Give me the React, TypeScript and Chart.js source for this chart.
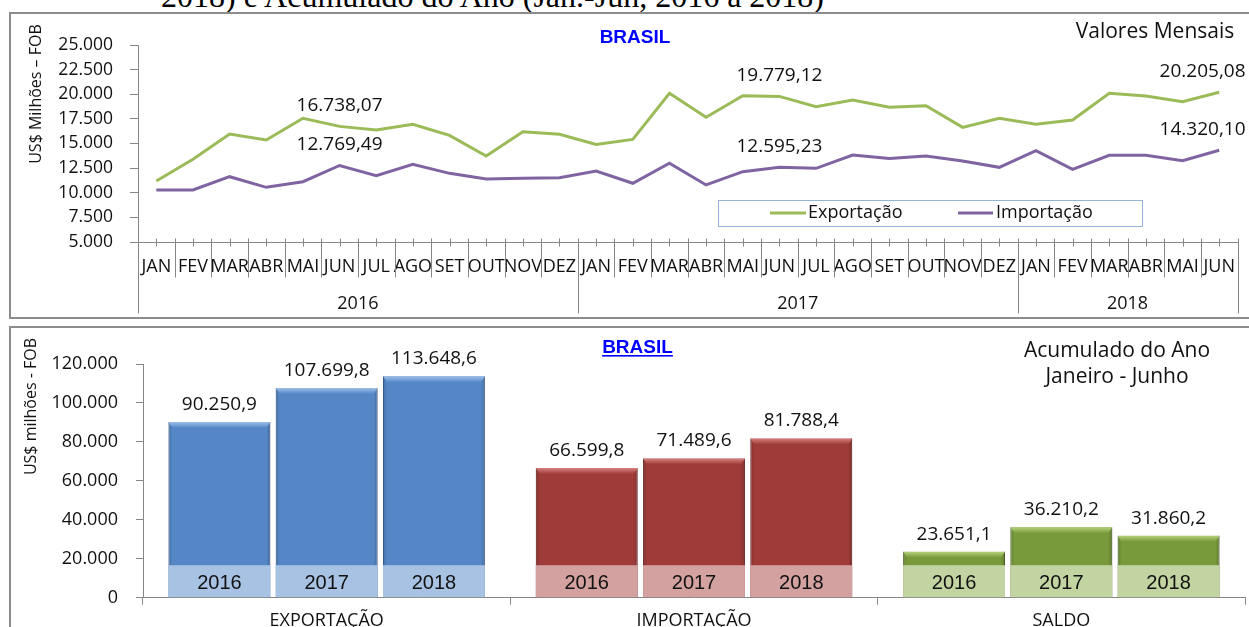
import React, { useEffect, useRef } from 'react';
import { Chart, registerables } from 'chart.js';

Chart.register(...registerables);

// ---------------- DATA ----------------
const MONTH_LABELS = [
  'JAN', 'FEV', 'MAR', 'ABR', 'MAI', 'JUN', 'JUL', 'AGO', 'SET', 'OUT', 'NOV', 'DEZ',
  'JAN', 'FEV', 'MAR', 'ABR', 'MAI', 'JUN', 'JUL', 'AGO', 'SET', 'OUT', 'NOV', 'DEZ',
  'JAN', 'FEV', 'MAR', 'ABR', 'MAI', 'JUN',
];
const YEAR_LABELS = ['2016', '2017', '2018'];
const MONTHS_IN_YEAR = [12, 12, 6];

const EXPORT_MONTHLY = [
  11190, 13400, 15960, 15350, 17560, 16738.07, 16370, 16950, 15830, 13730, 16200, 15930,
  14910, 15420, 20090, 17660, 19850, 19779.12, 18740, 19420, 18680, 18840, 16640, 17560,
  16950, 17390, 20090, 19820, 19240, 20205.08,
];
const IMPORT_MONTHLY = [
  10280, 10280, 11630, 10550, 11120, 12769.49, 11730, 12890, 11970, 11400, 11470, 11530,
  12210, 10960, 12990, 10790, 12140, 12595.23, 12480, 13830, 13490, 13730, 13220, 12580,
  14270, 12380, 13800, 13800, 13260, 14320.1,
];
const LABELED_MONTHS = [5, 17, 29];

const ACC_GROUPS = ['EXPORTAÇÃO', 'IMPORTAÇÃO', 'SALDO'];
const ACC_YEARS = ['2016', '2017', '2018'];
const EXPORT_ACC = [90250.9, 107699.8, 113648.6];
const IMPORT_ACC = [66599.8, 71489.6, 81788.4];
const SALDO_ACC = [23651.1, 36210.2, 31860.2];

// ---------------- STYLE ----------------
const FONT = '"Open Sans", "Noto Sans", sans-serif';
const ARIAL = '"Liberation Sans", Arial, sans-serif';
const AXIS = '#868686';
const GREEN = '#9BBB59';
const PURPLE = '#8064A2';
const TEXT = '#111111';
const BAND_H = 32;

const PALETTE = [
  { fill: '#5587C7', light: '#9DBFEA', border: '#3F6AA0', band: '#A8C2E3' },
  { fill: '#9F3B39', light: '#D9817F', border: '#7A2A28', band: '#D3A1A0' },
  { fill: '#799A3B', light: '#B7D27E', border: '#5B7429', band: '#C3D4A3' },
];

function fmt(v: number, dec: number): string {
  const fixed = v.toFixed(dec);
  const [intPart, frac] = fixed.split('.');
  const withSep = intPart.replace(/\B(?=(\d{3})+(?!\d))/g, '.');
  return frac ? withSep + ',' + frac : withSep;
}

const topDecor = {
  id: 'topDecor',
  afterDraw(chart: any) {
    const { ctx, chartArea } = chart;
    const x = chart.scales.x;
    const n = chart.data.labels.length;
    const step = x.getPixelForValue(1) - x.getPixelForValue(0);
    const axisY = Math.round(chartArea.bottom) + 0.5;
    ctx.save();
    ctx.strokeStyle = AXIS;
    ctx.lineWidth = 1;
    for (let i = 0; i < n; i++) {
      const px = Math.round(x.getPixelForValue(i)) + 0.5;
      ctx.beginPath();
      ctx.moveTo(px, axisY - 4);
      ctx.lineTo(px, axisY + 4);
      ctx.stroke();
    }
    const yearStarts = [0];
    MONTHS_IN_YEAR.forEach((m, k) => yearStarts.push(yearStarts[k] + m));
    const first = x.getPixelForValue(0) - step / 2;
    for (let b = 0; b <= n; b++) {
      const bx = Math.round(first + b * step) + 0.5;
      const isYear = yearStarts.includes(b);
      ctx.beginPath();
      ctx.moveTo(bx, axisY - 4);
      ctx.lineTo(bx, axisY + (isYear ? 71 : 35));
      ctx.stroke();
    }
    ctx.fillStyle = TEXT;
    ctx.font = `18px ${FONT}`;
    ctx.textAlign = 'center';
    ctx.textBaseline = 'alphabetic';
    YEAR_LABELS.forEach((yl, k) => {
      const a = first + yearStarts[k] * step;
      const bb = first + yearStarts[k + 1] * step;
      ctx.fillText(yl, (a + bb) / 2, axisY + 66);
    });
    ctx.font = `19px ${FONT}`;
    chart.data.datasets.forEach((ds: any, di: number) => {
      const meta = chart.getDatasetMeta(di);
      LABELED_MONTHS.forEach((idx) => {
        const el = meta.data[idx];
        const txt = fmt(ds.data[idx], 2);
        const w = ctx.measureText(txt).width;
        const cx = Math.min(el.x, chartArea.right + 8 - w / 2);
        ctx.fillText(txt, cx, el.y - 15);
      });
    });
    ctx.save();
    ctx.translate(36, 94);
    ctx.rotate(-Math.PI / 2);
    ctx.font = `16px ${FONT}`;
    ctx.textBaseline = 'middle';
    ctx.fillText('US$ Milhões – FOB', 0, 0);
    ctx.restore();
    ctx.font = `bold 19px ${ARIAL}`;
    ctx.fillStyle = '#0000FF';
    ctx.fillText('BRASIL', 635, 43);
    ctx.font = `21px ${FONT}`;
    ctx.fillStyle = TEXT;
    ctx.fillText('Valores Mensais', 1155, 38);
    ctx.strokeStyle = '#95B3D7';
    ctx.lineWidth = 1;
    ctx.strokeRect(718.5, 200.5, 424, 26);
    const items = [
      { color: GREEN, label: chart.data.datasets[0].label, x0: 770, x1: 806, tx: 808 },
      { color: PURPLE, label: chart.data.datasets[1].label, x0: 958, x1: 993, tx: 996 },
    ];
    ctx.font = `18px ${FONT}`;
    ctx.textAlign = 'left';
    items.forEach((it) => {
      ctx.strokeStyle = it.color;
      ctx.lineWidth = 3;
      ctx.beginPath();
      ctx.moveTo(it.x0, 213);
      ctx.lineTo(it.x1, 213);
      ctx.stroke();
      ctx.fillStyle = TEXT;
      ctx.fillText(it.label, it.tx, 218);
    });
    ctx.restore();
  },
};

const barDecor = {
  id: 'barDecor',
  afterDatasetsDraw(chart: any) {
    const { ctx } = chart;
    ctx.save();
    chart.data.datasets.forEach((ds: any, di: number) => {
      const meta = chart.getDatasetMeta(di);
      meta.data.forEach((el: any, i: number) => {
        const { x, y, base, width } = el.getProps(['x', 'y', 'base', 'width'], true);
        const left = x - width / 2;
        const right = x + width / 2;
        const pal = PALETTE[i];
        const sg = ctx.createLinearGradient(left, 0, right, 0);
        sg.addColorStop(0, 'rgba(0,0,0,0.18)');
        sg.addColorStop(0.04, 'rgba(0,0,0,0)');
        sg.addColorStop(0.96, 'rgba(0,0,0,0)');
        sg.addColorStop(1, 'rgba(0,0,0,0.22)');
        ctx.fillStyle = sg;
        ctx.fillRect(left, y, width, base - y);
        const g = ctx.createLinearGradient(0, y, 0, y + 6);
        g.addColorStop(0, pal.light);
        g.addColorStop(1, pal.fill);
        ctx.fillStyle = g;
        ctx.beginPath();
        ctx.moveTo(left, y);
        ctx.lineTo(right, y);
        ctx.lineTo(right - 4, y + 6);
        ctx.lineTo(left + 4, y + 6);
        ctx.closePath();
        ctx.fill();
        ctx.fillStyle = pal.band;
        ctx.fillRect(left, base - BAND_H, width, BAND_H);
        ctx.fillStyle = TEXT;
        ctx.font = `20px ${ARIAL}`;
        ctx.textAlign = 'center';
        ctx.textBaseline = 'alphabetic';
        ctx.fillText(ds.label, x, base - 8.5);
        ctx.font = `19px ${FONT}`;
        ctx.fillText(fmt(ds.data[i], 1), x, y - 12);
      });
    });
    ctx.restore();
  },
  afterDraw(chart: any) {
    const { ctx } = chart;
    ctx.save();
    ctx.fillStyle = TEXT;
    ctx.textAlign = 'center';
    ctx.save();
    ctx.translate(31, 86.5);
    ctx.rotate(-Math.PI / 2);
    ctx.font = `16px ${FONT}`;
    ctx.textBaseline = 'middle';
    ctx.fillText('US$ milhões - FOB', 0, 0);
    ctx.restore();
    ctx.font = `bold 19px ${ARIAL}`;
    ctx.fillStyle = '#0000FF';
    ctx.textBaseline = 'alphabetic';
    ctx.fillText('BRASIL', 637.5, 33.3);
    const bw = ctx.measureText('BRASIL').width;
    ctx.fillRect(637.5 - bw / 2, 35, bw, 1.6);
    ctx.fillStyle = TEXT;
    ctx.font = `21px ${FONT}`;
    ctx.fillText('Acumulado do Ano', 1117, 37.3);
    ctx.fillText('Janeiro - Junho', 1117, 62.7);
    ctx.restore();
  },
};

export default function App() {
  const topRef = useRef<HTMLCanvasElement>(null);
  const botRef = useRef<HTMLCanvasElement>(null);

  useEffect(() => {
    const top = new Chart(topRef.current as HTMLCanvasElement, {
      type: 'line',
      data: {
        labels: MONTH_LABELS,
        datasets: [
          { label: 'Exportação', data: EXPORT_MONTHLY, borderColor: GREEN, backgroundColor: GREEN, borderWidth: 3, pointRadius: 0, tension: 0, fill: false },
          { label: 'Importação', data: IMPORT_MONTHLY, borderColor: PURPLE, backgroundColor: PURPLE, borderWidth: 3, pointRadius: 0, tension: 0, fill: false },
        ],
      },
      options: {
        responsive: false,
        animation: false,
        devicePixelRatio: 1,
        layout: { padding: { top: 45, right: 2.5, left: 0, bottom: 0 } },
        plugins: { legend: { display: false }, tooltip: { enabled: false } },
        scales: {
          x: {
            type: 'category',
            offset: true,
            grid: { display: false, drawTicks: false },
            border: { display: true, color: AXIS, width: 1 },
            ticks: { autoSkip: false, maxRotation: 0, minRotation: 0, padding: 14, color: TEXT, font: { family: FONT, size: 18 } },
            afterFit: (s: any) => { s.height = 78; },
          },
          y: {
            min: 5000,
            max: 25000,
            ticks: { stepSize: 2500, padding: 17, color: TEXT, font: { family: FONT, size: 17.5 }, callback: (v: any) => fmt(Number(v), 0) },
            grid: { drawOnChartArea: false, drawTicks: true, tickLength: 8, color: AXIS },
            border: { display: true, color: AXIS, width: 1 },
            afterFit: (s: any) => { s.width = 138; },
          },
        },
      } as any,
      plugins: [topDecor],
    });

    const bottom = new Chart(botRef.current as HTMLCanvasElement, {
      type: 'bar',
      data: {
        labels: ACC_GROUPS,
        datasets: ACC_YEARS.map((yr, k) => ({
          label: yr,
          data: [EXPORT_ACC[k], IMPORT_ACC[k], SALDO_ACC[k]],
          backgroundColor: PALETTE.map((p) => p.fill),
          borderColor: PALETTE.map((p) => p.border),
          borderWidth: 1,
          categoryPercentage: 0.876,
          barPercentage: 0.95,
        })),
      },
      options: {
        responsive: false,
        animation: false,
        devicePixelRatio: 1,
        layout: { padding: { top: 44, right: 4, left: 0, bottom: 0 } },
        plugins: { legend: { display: false }, tooltip: { enabled: false } },
        scales: {
          x: {
            offset: true,
            grid: { offset: true, drawOnChartArea: false, drawTicks: true, tickLength: 7, color: AXIS },
            border: { display: true, color: AXIS, width: 1 },
            ticks: { autoSkip: false, maxRotation: 0, padding: 5, color: TEXT, font: { family: FONT, size: 18 } },
            afterFit: (s: any) => { s.height = 29.3; },
          },
          y: {
            min: 0,
            max: 120000,
            ticks: { stepSize: 20000, padding: 18, color: TEXT, font: { family: FONT, size: 18 }, callback: (v: any) => fmt(Number(v), 0) },
            grid: { drawOnChartArea: false, drawTicks: true, tickLength: 7, color: AXIS },
            border: { display: true, color: AXIS, width: 1 },
            afterFit: (s: any) => { s.width = 143; },
          },
        },
      } as any,
      plugins: [barDecor],
    });

    return () => {
      top.destroy();
      bottom.destroy();
    };
  }, []);

  return (
    <div style={{ position: 'fixed', left: 0, top: 0, width: 1249, height: 627, overflow: 'hidden', background: '#fff' }}>
      <div
        style={{
          position: 'absolute', left: 161, top: -20, fontFamily: '"Liberation Serif", "Times New Roman", serif',
          fontSize: 32, lineHeight: '32px', whiteSpace: 'nowrap', color: '#000',
        }}
      >
        2018) e Acumulado do Ano (Jan.-Jun, 2016 a 2018)
      </div>
      <div style={{ position: 'absolute', left: 9, top: 12, width: 1300, height: 307, border: '2px solid #8c8c8c', boxSizing: 'border-box' }} />
      <div style={{ position: 'absolute', left: 9, top: 326, width: 1300, height: 400, border: '2px solid #8c8c8c', boxSizing: 'border-box' }} />
      <canvas ref={topRef} width={1249} height={320} style={{ position: 'absolute', left: 0, top: 0, width: 1249, height: 320 }} />
      <canvas ref={botRef} width={1249} height={307} style={{ position: 'absolute', left: 0, top: 320, width: 1249, height: 307 }} />
    </div>
  );
}
